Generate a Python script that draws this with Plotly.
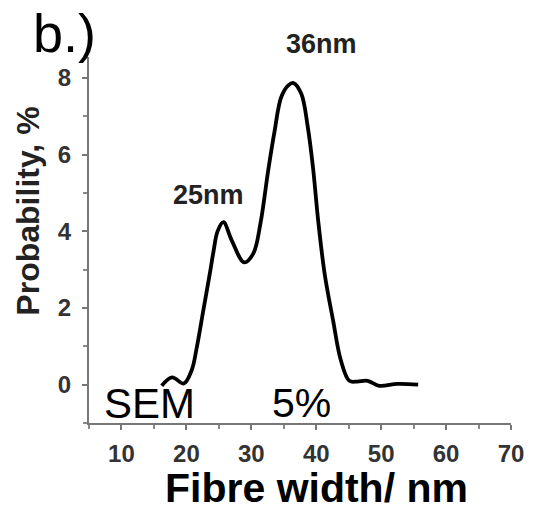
import plotly.graph_objects as go

# Fibre width distribution
width_nm = [16.2, 17.8, 19.6, 20.8, 21.6, 22.6, 23.6, 24.2, 24.8, 25.7, 27.0, 28.9,
            30.3, 31.4, 32.6, 33.6, 34.6, 35.7, 36.5, 37.7, 38.7, 39.5, 40.3, 41.3,
            42.6, 43.8, 45.1, 46.3, 47.9, 49.7, 52.5, 55.7]
probability = [-0.03, 0.19, 0.03, 0.37, 0.97, 1.93, 2.89, 3.5, 4.0, 4.24, 3.76, 3.19,
               3.42, 4.2, 5.59, 6.63, 7.5, 7.81, 7.87, 7.59, 6.72, 5.67, 4.28, 2.89,
               1.67, 0.63, 0.1, 0.08, 0.1, -0.03, 0.02, 0.0]

x_ticks = [10, 20, 30, 40, 50, 60, 70]
y_ticks = [0, 2, 4, 6, 8]

FONT = "Liberation Sans, Arial, sans-serif"

fig = go.Figure()
fig.add_trace(go.Scatter(
    x=width_nm, y=probability, mode="lines",
    line=dict(color="black", width=3.8, shape="spline", smoothing=1.0),
    showlegend=False, hoverinfo="skip",
))

axis_common = dict(
    showline=True, linecolor="#777", linewidth=2, mirror=False,
    ticks="outside", ticklen=5, tickwidth=2, tickcolor="#777",
    showgrid=False, zeroline=False,
    tickfont=dict(family=FONT, size=24, color="#333", weight="bold"),
)

fig.update_xaxes(range=[5, 70], tickvals=x_ticks,
                 minor=dict(dtick=5, tick0=0, ticks="outside", ticklen=4, tickwidth=2, tickcolor="#888"),
                 ticklabelstandoff=3, **axis_common)
fig.update_yaxes(range=[-1, 8.55], tickvals=y_ticks,
                 minor=dict(dtick=1, tick0=0, ticks="outside", ticklen=4, tickwidth=2, tickcolor="#888"),
                 ticklabelstandoff=6, **axis_common)

PL, PR, PT, PB = 89.3, 514.3, 57.0, 423.0


def px(xp):
    return (xp - PL) / (PR - PL)


def py(yp):
    return (PB - yp) / (PB - PT)


ann = []
ann.append(dict(text="b.)", xref="paper", yref="paper", x=px(31), y=py(33),
                xanchor="left", yanchor="middle", showarrow=False,
                font=dict(family=FONT, size=54, color="black")))
ann.append(dict(text="36nm", xref="paper", yref="paper", x=px(323), y=py(44),
                xanchor="center", yanchor="middle", showarrow=False,
                font=dict(family=FONT, size=27, color="#222", weight="bold")))
ann.append(dict(text="25nm", xref="paper", yref="paper", x=px(209.5), y=py(195),
                xanchor="center", yanchor="middle", showarrow=False,
                font=dict(family=FONT, size=27, color="#222", weight="bold")))
ann.append(dict(text="SEM", xref="paper", yref="paper", x=px(102), y=py(403),
                xanchor="left", yanchor="middle", showarrow=False,
                font=dict(family=FONT, size=42, color="black")))
ann.append(dict(text="5%", xref="paper", yref="paper", x=px(272), y=py(403),
                xanchor="left", yanchor="middle", showarrow=False,
                font=dict(family=FONT, size=41, color="black")))
ann.append(dict(text="Fibre width/ nm", xref="paper", yref="paper",
                x=px(318.5), y=py(488),
                xanchor="center", yanchor="middle", showarrow=False,
                font=dict(family=FONT, size=41, color="black", weight="bold")))
ann.append(dict(text="Probability, %", xref="paper", yref="paper",
                x=px(27), y=py(211.5), textangle=-90,
                xanchor="center", yanchor="middle", showarrow=False,
                font=dict(family=FONT, size=32, color="#222", weight="bold")))

fig.update_layout(
    width=536, height=511,
    margin=dict(l=89, r=22, t=57, b=88),
    paper_bgcolor="white", plot_bgcolor="white",
    annotations=ann,
)

fig.write_html("out.html")
